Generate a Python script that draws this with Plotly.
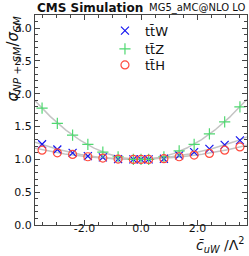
import numpy as np
import plotly.graph_objects as go

# Data
c_uw = [-3.5, -2.96, -2.42, -1.88, -1.35, -0.81, -0.27, 0.0, 0.27, 0.81, 1.35, 1.88, 2.42, 2.96, 3.5]
ttW = [1.23, 1.15, 1.10, 1.05, 1.03, 1.005, 1.0, 1.0, 1.0, 1.01, 1.06, 1.11, 1.16, 1.22, 1.29]
ttZ = [1.78, 1.55, 1.37, 1.23, 1.11, 1.04, 1.0, 1.0, 1.0, 1.04, 1.13, 1.23, 1.39, 1.57, 1.80]
ttH = [1.14, 1.10, 1.075, 1.04, 1.02, 1.005, 1.0, 1.0, 1.0, 1.01, 1.04, 1.066, 1.09, 1.14, 1.19]
names = ["tt\u0304W", "tt\u0304Z", "tt\u0304H"]
x_ticks = [-2.0, 0.0, 2.0]
y_ticks = [0.0, 0.5, 1.0, 1.5, 2.0, 2.5, 3.0]

colors = ["#1515f0", "#4fd870", "#ff4a3d"]
symbols = ["x-thin", "cross-thin", "circle-open"]
series = [ttW, ttZ, ttH]
legend_ids = ["legend", "legend2", "legend3"]
legend_y = [0.925, 0.838, 0.762]

XR = [-3.75, 3.75]
fig = go.Figure()

# quadratic fits (computed from the data) drawn as grey lines
xf = np.linspace(XR[0], XR[1], 200)
for ys in series:
    p = np.polyfit(c_uw, ys, 2)
    fig.add_trace(go.Scatter(x=xf, y=np.polyval(p, xf), mode="lines",
                             line=dict(color="#c4c4c4", width=1.5),
                             showlegend=False, hoverinfo="skip"))

for ys, nm, col, sym, lg in zip(series, names, colors, symbols, legend_ids):
    fig.add_trace(go.Scatter(x=c_uw, y=ys, mode="markers", name=nm, legend=lg,
                             marker=dict(symbol=sym, size=8,
                                         color=col, line=dict(color=col, width=1.2))))

axis_common = dict(showgrid=False, zeroline=False, showline=True, linecolor="#444",
                   linewidth=1, mirror="ticks", ticks="inside", tickcolor="#444",
                   ticklen=5, tickfont=dict(family="DejaVu Sans", size=11, color="#111"))

fig.update_xaxes(range=XR, tickvals=x_ticks, ticktext=[f"{v:.1f}" for v in x_ticks],
                 ticklabelstandoff=-7,
                 minor=dict(ticks="inside", dtick=0.5, tick0=0, ticklen=3, tickcolor="#444"),
                 **axis_common)
fig.update_yaxes(range=[0, 3.2], tickvals=y_ticks, ticktext=[f"{v:.1f}" for v in y_ticks],
                 minor=dict(ticks="inside", dtick=0.1, tick0=0, ticklen=3, tickcolor="#444"),
                 **axis_common)

leg_style = dict(x=0.33, xanchor="left", yanchor="middle", bgcolor="rgba(0,0,0,0)",
                 font=dict(size=13, family="DejaVu Sans", color="#111"), itemwidth=30)

fig.update_layout(
    width=249, height=256,
    margin=dict(l=35, r=2, t=15, b=31),
    plot_bgcolor="white", paper_bgcolor="white",
    font=dict(family="DejaVu Sans", color="#111"),
    legend=dict(y=legend_y[0], **leg_style),
    legend2=dict(y=legend_y[1], **leg_style),
    legend3=dict(y=legend_y[2], **leg_style),
    annotations=[
        dict(text="<b>CMS Simulation</b>", xref="paper", yref="paper", x=0, y=1,
             xanchor="left", yanchor="bottom", yshift=-2, showarrow=False,
             font=dict(size=12, family="DejaVu Sans", color="#111")),
        dict(text="MG5_aMC@NLO LO", xref="paper", yref="paper", x=1, y=1,
             xanchor="right", yanchor="bottom", yshift=-1, showarrow=False,
             font=dict(size=10, family="DejaVu Sans", color="#111")),
        dict(text="<i>σ</i><sub><i>NP + SM</i></sub>/<i>σ</i><sub><i>SM</i></sub>",
             xref="paper", yref="paper", x=0, y=1, xshift=-22, textangle=-90,
             xanchor="center", yanchor="top", showarrow=False,
             font=dict(size=15, family="DejaVu Sans", color="#111")),
        dict(text="<i>c\u0304</i><sub><i>uW</i></sub> /Λ<sup>2</sup>",
             xref="paper", yref="paper", x=1, y=0, yshift=-8,
             xanchor="right", yanchor="top", showarrow=False,
             font=dict(size=14, family="DejaVu Sans", color="#111")),
    ],
)

fig.write_html("out.html", config={"displayModeBar": False},
               post_script="document.body.style.margin='0';document.body.style.overflow='hidden';")
